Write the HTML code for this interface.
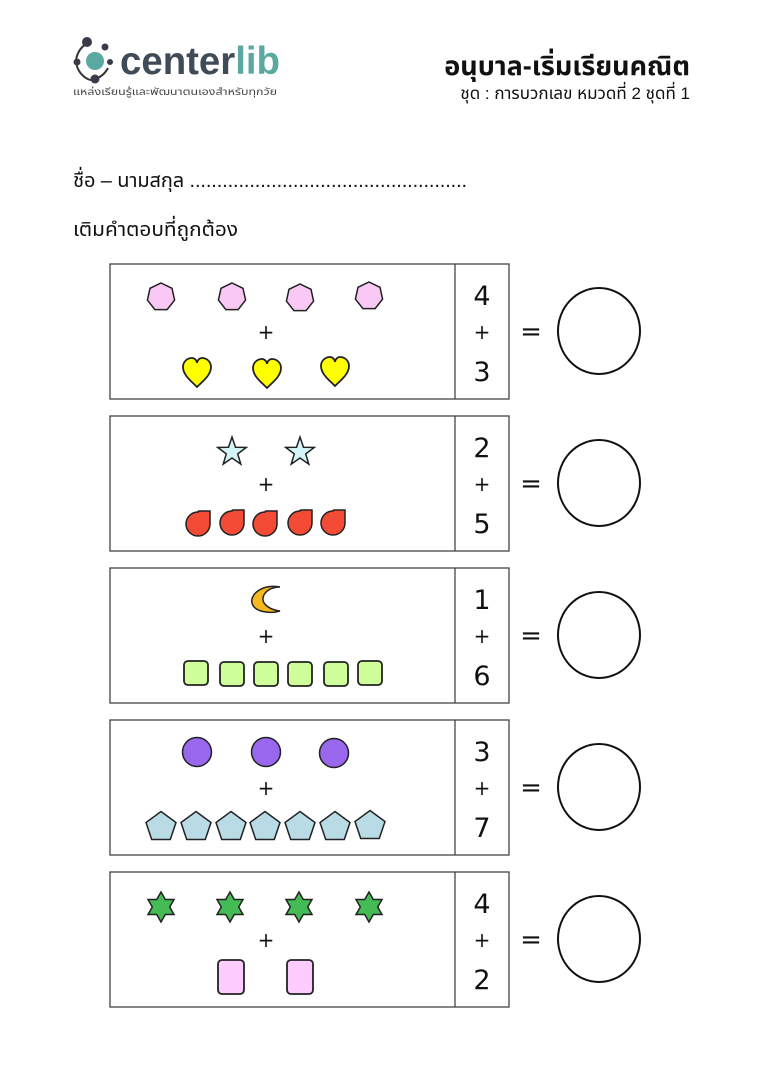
<!DOCTYPE html>
<html><head><meta charset="utf-8">
<style>
html,body{margin:0;padding:0;background:#fff;width:763px;height:1080px;overflow:hidden}
svg{display:block}
.th{font-family:"Liberation Sans","Noto Sans Thai","Loma","Garuda","TlwgTypo","DejaVu Sans",sans-serif}
</style></head><body>
<svg width="763" height="1080" viewBox="0 0 763 1080" xmlns="http://www.w3.org/2000/svg">
<defs>
 <polygon id="hept" points="0,-14 11,-8.7 13.6,3.1 6.1,12.6 -6.1,12.6 -13.6,3.1 -11,-8.7" fill="#f9c8f4" stroke="#222" stroke-width="1.5"/>
 <path id="heart" d="M0,14 C-6,8 -14,2 -14,-6 C-14,-12 -9,-15 -5,-15 C-2,-15 0,-12 0,-10 C0,-12 2,-15 5,-15 C9,-15 14,-12 14,-6 C14,2 6,8 0,14 Z" fill="#ffff00" stroke="#222" stroke-width="1.8"/>
 <polygon id="star5" points="0,-15 3.5,-4.8 14.3,-4.6 5.7,1.9 8.8,12.1 0,6 -8.8,12.1 -5.7,1.9 -14.3,-4.6 -3.5,-4.8" fill="#d3f5f8" stroke="#222" stroke-width="1.5"/>
 <path id="drop" d="M12,-12 L12,1 A12,12 0 1 1 0,-11 Q0,-12 1,-12 Z" fill="#f44b37" stroke="#222" stroke-width="1.5"/>
 <rect id="sq" x="-12" y="-12" width="24" height="24" rx="4" fill="#cfff9a" stroke="#222" stroke-width="1.8"/>
 <circle id="circ" r="14.5" fill="#9966ee" stroke="#222" stroke-width="1.5"/>
 <polygon id="pent" points="0,-14.5 15,-3.5 9.3,13.5 -9.3,13.5 -15,-3.5" fill="#b8dbe6" stroke="#222" stroke-width="1.5"/>
 <polygon id="star6" points="0,-15 4.3,-7.5 13,-7.5 8.7,0 13,7.5 4.3,7.5 0,15 -4.3,7.5 -13,7.5 -8.7,0 -13,-7.5 -4.3,-7.5" fill="#44bb55" stroke="#222" stroke-width="1.5"/>
 <rect id="prect" x="-13" y="-17" width="26" height="34" rx="4" fill="#ffccff" stroke="#222" stroke-width="1.8"/>
</defs>

<!-- logo -->
<g>
 <path d="M86,44 A22,22 0 0 0 76,62" fill="none" stroke="#333" stroke-width="2"/>
 <path d="M76,62 A22,22 0 0 0 90,80" fill="none" stroke="#333" stroke-width="2"/>
 <path d="M90,80 A22,22 0 0 0 108,68" fill="none" stroke="#333" stroke-width="2"/>
 <circle cx="95" cy="61" r="9" fill="#5ba8a0"/>
 <circle cx="87" cy="42" r="5" fill="#3a3a4a"/>
 <circle cx="105" cy="47" r="3.5" fill="#3a3a4a"/>
 <circle cx="77" cy="62" r="3.5" fill="#3a3a4a"/>
 <circle cx="110" cy="62" r="3" fill="#3a3a4a"/>
 <circle cx="95" cy="79" r="4.5" fill="#3a3a4a"/>
 <text x="120" y="74" font-family="Liberation Sans,sans-serif" font-size="39" font-weight="bold" fill="#3f4b57" textLength="160" lengthAdjust="spacingAndGlyphs">center<tspan fill="#5ba8a0">lib</tspan></text>
 <text x="73" y="95" class="th" font-size="10" fill="#444" textLength="204" lengthAdjust="spacingAndGlyphs">แหล่งเรียนรู้และพัฒนาตนเองสำหรับทุกวัย</text>
</g>

<text x="690" y="75" text-anchor="end" class="th" font-size="27" font-weight="bold" fill="#111">อนุบาล-เริ่มเรียนคณิต</text>
<text x="690" y="99" text-anchor="end" class="th" font-size="17" fill="#111">ชุด : การบวกเลข หมวดที่ 2 ชุดที่ 1</text>

<text x="73" y="187" class="th" font-size="20" fill="#111" textLength="394" lengthAdjust="spacing">ชื่อ – นามสกุล ...................................................</text>
<text x="73" y="236" class="th" font-size="20" fill="#111" textLength="165" lengthAdjust="spacingAndGlyphs">เติมคำตอบที่ถูกต้อง</text>

<g font-family="DejaVu Sans,Liberation Sans,sans-serif" fill="#111">
<g fill="none" stroke="#444" stroke-width="1.3">
 <rect x="110" y="264" width="399" height="135"/><line x1="455" y1="264" x2="455" y2="399"/>
 <rect x="110" y="416" width="399" height="135"/><line x1="455" y1="416" x2="455" y2="551"/>
 <rect x="110" y="568" width="399" height="135"/><line x1="455" y1="568" x2="455" y2="703"/>
 <rect x="110" y="720" width="399" height="135"/><line x1="455" y1="720" x2="455" y2="855"/>
 <rect x="110" y="872" width="399" height="135"/><line x1="455" y1="872" x2="455" y2="1007"/>
</g>
<g fill="none" stroke="#111" stroke-width="2">
 <ellipse cx="599" cy="331" rx="41" ry="43"/>
 <ellipse cx="599" cy="483" rx="41" ry="43"/>
 <ellipse cx="599" cy="635" rx="41" ry="43"/>
 <ellipse cx="599" cy="787" rx="41" ry="43"/>
 <ellipse cx="599" cy="939" rx="41" ry="43"/>
</g>
<g font-size="27" text-anchor="middle">
 <text x="482" y="305">4</text><text x="482" y="381">3</text>
 <text x="482" y="457">2</text><text x="482" y="533">5</text>
 <text x="482" y="609">1</text><text x="482" y="685">6</text>
 <text x="482" y="761">3</text><text x="482" y="837">7</text>
 <text x="482" y="913">4</text><text x="482" y="989">2</text>
</g>
<g font-size="20" text-anchor="middle">
 <text x="482" y="339">+</text><text x="266" y="339">+</text><text x="531" y="340" font-size="26">=</text>
 <text x="482" y="491">+</text><text x="266" y="491">+</text><text x="531" y="492" font-size="26">=</text>
 <text x="482" y="643">+</text><text x="266" y="643">+</text><text x="531" y="644" font-size="26">=</text>
 <text x="482" y="795">+</text><text x="266" y="795">+</text><text x="531" y="796" font-size="26">=</text>
 <text x="482" y="947">+</text><text x="266" y="947">+</text><text x="531" y="948" font-size="26">=</text>
</g>
</g>

<use href="#hept" x="161" y="297"/><use href="#hept" x="232" y="297"/><use href="#hept" x="300" y="298"/><use href="#hept" x="369" y="296"/>
<use href="#heart" x="197" y="373"/><use href="#heart" x="267" y="374"/><use href="#heart" x="335" y="372"/>
<use href="#star5" x="232" y="452"/><use href="#star5" x="300" y="452"/>
<use href="#drop" x="198" y="523"/><use href="#drop" x="232" y="522"/><use href="#drop" x="265" y="523"/><use href="#drop" x="300" y="522"/><use href="#drop" x="333" y="522"/>
<path d="M280,587 C262,584 250,594 252,603 C254,612 270,614 280,611 C270,610 262,604 263,598 C264,591 272,587 280,587 Z" fill="#f5b820" stroke="#222" stroke-width="1.5"/>
<use href="#sq" x="196" y="673"/><use href="#sq" x="232" y="674"/><use href="#sq" x="266" y="674"/><use href="#sq" x="300" y="674"/><use href="#sq" x="336" y="674"/><use href="#sq" x="370" y="673"/>
<use href="#circ" x="197" y="752"/><use href="#circ" x="266" y="752"/><use href="#circ" x="334" y="753"/>
<use href="#pent" x="161" y="826"/><use href="#pent" x="196" y="826"/><use href="#pent" x="231" y="826"/><use href="#pent" x="265" y="826"/><use href="#pent" x="300" y="826"/><use href="#pent" x="335" y="826"/><use href="#pent" x="370" y="825"/>
<use href="#star6" x="161" y="907"/><use href="#star6" x="230" y="907"/><use href="#star6" x="299" y="907"/><use href="#star6" x="369" y="907"/>
<use href="#prect" x="231" y="977"/><use href="#prect" x="300" y="977"/>
</svg>
</body></html>
